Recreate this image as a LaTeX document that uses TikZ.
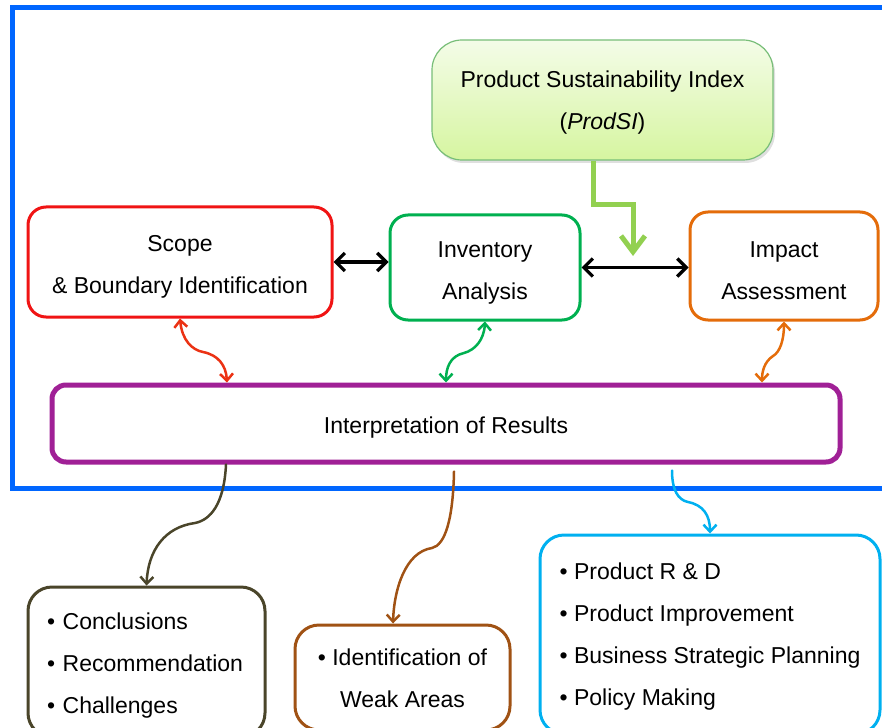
\documentclass[tikz,border=0pt]{standalone}
\usepackage{fontspec}
\setmainfont{Liberation Sans}
\usetikzlibrary{arrows.meta,shadows,calc}
\definecolor{frameblue}{RGB}{0,102,255}
\definecolor{scopered}{RGB}{240,20,20}
\definecolor{invgreen}{RGB}{0,176,80}
\definecolor{impactorange}{RGB}{228,108,10}
\definecolor{interppurple}{RGB}{160,32,150}
\definecolor{prodborder}{RGB}{120,190,120}
\definecolor{prodtop}{RGB}{244,252,232}
\definecolor{prodbottom}{RGB}{214,245,160}
\definecolor{conolive}{RGB}{74,69,42}
\definecolor{weakbrown}{RGB}{160,82,20}
\definecolor{prodcyan}{RGB}{0,176,240}
\definecolor{prodarrow}{RGB}{146,208,80}
\definecolor{wavered}{RGB}{235,50,20}
\newcommand\tstrut[1]{\rule{0pt}{#1}}
\begin{document}
\begin{tikzpicture}[x=1pt,y=-1pt,
  txt/.style={font=\fontsize{23}{42}\selectfont},
  box/.style={draw, line width=3pt, fill=white, rounded corners=18pt, inner sep=0pt, align=center, txt},
  lowbox/.style={draw, line width=3pt, fill=white, rounded corners=24pt, inner sep=0pt, txt},
  dblarrow/.style={line width=3.2pt, {Straight Barb[length=9pt,width=18pt]}-{Straight Barb[length=9pt,width=18pt]}},
  wave/.style={line width=2.5pt, line cap=round, {Straight Barb[length=7pt,width=13pt]}-{Straight Barb[length=7pt,width=13pt]}},
  owave/.style={line width=2.5pt, line cap=round, -{Straight Barb[length=7pt,width=13pt]}}
]
\useasboundingbox (0,0) rectangle (882,727);
\clip (0,0) rectangle (882,727);

% outer frame
\draw[frameblue, line width=5pt] (12,8) rectangle (905,488);

% nodes
\node[draw=prodborder, line width=1.2pt, rounded corners=30pt, top color=prodtop, bottom color=prodbottom,
      minimum width=341pt, minimum height=120pt, inner sep=0pt, align=center, txt,
      drop shadow={shadow xshift=2pt, shadow yshift=-3pt, opacity=0.25}]
  (prodsi) at (602.5,100) {\tstrut{21pt}Product Sustainability Index\\(\textit{ProdSI})};

\node[box, draw=scopered, minimum width=304pt, minimum height=110pt] (scope) at (180,262)
  {\tstrut{26pt}Scope\\\& Boundary Identification};
\node[box, draw=invgreen, minimum width=190pt, minimum height=105pt] (inv) at (485,267.5)
  {\tstrut{26pt}Inventory\\Analysis};
\node[box, draw=impactorange, minimum width=188pt, minimum height=108pt] (impact) at (784,266)
  {\tstrut{25pt}Impact\\Assessment};
\node[box, draw=interppurple, line width=5pt, rounded corners=14pt, minimum width=788pt, minimum height=77pt] (interp) at (446,423.5)
  {\tstrut{25pt}Interpretation of Results};

\node[lowbox, draw=conolive, text width=199pt, inner xsep=19pt, minimum height=150pt, align=left] (conc) at (146.5,662)
  {\tstrut{23pt}\textbullet\ Conclusions\\\textbullet\ Recommendation\\\textbullet\ Challenges};
\node[lowbox, draw=weakbrown, minimum width=215pt, minimum height=105pt, align=center] (weak) at (402.5,677.5)
  {\tstrut{19pt}\textbullet\ Identification of\\Weak Areas};
\node[lowbox, draw=prodcyan, minimum width=340pt, minimum height=199pt, align=left] (prod) at (710,634.5)
  {\tstrut{20pt}\textbullet\ Product R \& D\\\textbullet\ Product Improvement\\\textbullet\ Business Strategic Planning\\\textbullet\ Policy Making};

% black double arrows
\draw[dblarrow] (scope.east) -- (scope.east -| inv.west);
\draw[dblarrow] (inv.east) -- (inv.east -| impact.west);

% ProdSI arrow
\coordinate (gbend) at (633,205);
\coordinate (gtip) at (633,256);
\draw[prodarrow, line width=5pt, line join=miter, -{Straight Barb[length=16pt,width=24pt]}]
  ([xshift=-9.5pt]prodsi.south) |- (gbend) -- (gtip);

% wavy double arrows
\coordinate (rk) at (203,352);
\draw[wave, wavered] (scope.south) .. controls (182,340) and (192,350) .. (rk)
  .. controls (218,355) and (226,365) .. ([xshift=-219pt]interp.north);
\coordinate (gk) at (464,353);
\draw[wave, invgreen] (inv.south) .. controls (484,340) and (475,350) .. (gk)
  .. controls (450,356) and (446,368) .. (interp.north);
\coordinate (ok) at (773,356);
\draw[wave, impactorange] (impact.south) .. controls (784,340) and (780,352) .. (ok)
  .. controls (764,362) and (762,372) .. ([xshift=316pt]interp.north);

% lower wavy arrows
\coordinate (ck) at (195,523);
\draw[owave, conolive] ([xshift=-220pt]interp.south) .. controls (224,505) and (210,520) .. (ck)
  .. controls (165,527) and (148,550) .. (conc.north);
\coordinate (bk) at (432,548);
\draw[owave, weakbrown] ([xshift=8pt,yshift=-7pt]interp.south) .. controls (453,520) and (445,545) .. (bk)
  .. controls (405,552) and (394,590) .. ([xshift=-9.5pt]weak.north);
\coordinate (yk) at (688,502);
\draw[owave, prodcyan] ([xshift=226pt,yshift=-6pt]interp.south) .. controls (672,490) and (678,500) .. (yk)
  .. controls (703,505) and (710,515) .. (prod.north);
\end{tikzpicture}
\end{document}
